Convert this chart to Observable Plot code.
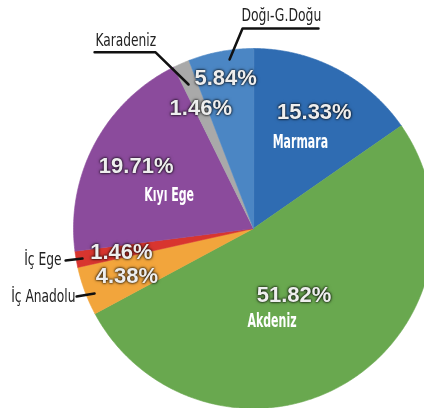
<!DOCTYPE html>
<html><head><meta charset="utf-8">
<script src="https://cdn.jsdelivr.net/npm/d3@7"></script>
<script src="https://cdn.jsdelivr.net/npm/@observablehq/plot@0.6"></script>
<style>
body{margin:0;background:#fff;}
#chart svg{display:block;}
</style></head><body><div id="chart"></div>
<script>
// ---- data ----
const regions = ["Marmara","Akdeniz","İç Anadolu","İç Ege","Kıyı Ege","Karadeniz","Doğı-G.Doğu"];
const shares  = [15.33, 51.82, 4.38, 1.46, 19.71, 1.46, 5.84];
const colors  = ["#2f6cb2","#69a84f","#f2a53c","#d8352f","#8b4b9c","#a9a9a9","#4b86c4"];
const insideNames = ["Marmara","Kıyı Ege","Akdeniz"];
const outsideNames = ["Doğı-G.Doğu","Karadeniz","İç Ege","İç Anadolu"];

// ---- layout (unit = pie radius) ----
const pctRadius = {"Marmara":0.73,"Akdeniz":0.43,"İç Anadolu":0.75,"İç Ege":0.745,"Kıyı Ege":0.74,"Karadeniz":0.73,"Doğı-G.Doğu":0.85};
const nameOffset = {"Marmara":[-14,30],"Kıyı Ege":[33,29],"Akdeniz":[-22,26]};
const leaderPaths = {
  "Doğı-G.Doğu":[[0.361,1.111],[-0.061,1.111],[-0.133,0.939]],
  "Karadeniz":[[-0.883,0.979],[-0.544,0.979],[-0.361,0.80]],
  "İç Ege":[[-1.044,-0.178],[-0.95,-0.167]],
  "İç Anadolu":[[-0.983,-0.378],[-0.883,-0.361]]
};
const outerText = {
  "Doğı-G.Doğu":{x:-0.067,y:1.183,anchor:"start"},
  "Karadeniz":{x:-0.878,y:1.044,anchor:"start"},
  "İç Ege":{x:-1.067,y:-0.172,anchor:"end"},
  "İç Anadolu":{x:-0.989,y:-0.378,anchor:"end"}
};
const outerSqueeze = {"Doğı-G.Doğu":0.81,"Karadeniz":0.80,"İç Ege":0.80,"İç Anadolu":0.80};

// ---- slices ----
const total = d3.sum(shares);
let acc = 0;
const slices = regions.map((r,i)=>{
  const a0 = acc/total*2*Math.PI; acc += shares[i];
  const a1 = acc/total*2*Math.PI;
  return {region:r, share:shares[i], a0, a1, mid:(a0+a1)/2};
});
const pts = slices.flatMap(s=>{
  const n = Math.max(2, Math.ceil((s.a1-s.a0)/(Math.PI/360)));
  const arr = [{region:s.region, x:0, y:0}];
  for(let k=0;k<=n;k++){const a=s.a0+(s.a1-s.a0)*k/n; arr.push({region:s.region, x:Math.sin(a), y:Math.cos(a)});}
  return arr;
});
const pctLabels = slices.map(s=>({region:s.region, label:s.share.toFixed(2)+"%",
  x:Math.sin(s.mid)*pctRadius[s.region], y:Math.cos(s.mid)*pctRadius[s.region]}));
const leaders = outsideNames.flatMap(n=>leaderPaths[n].map(([x,y])=>({key:n,x,y})));
const outer = outsideNames.map(n=>({label:n, ...outerText[n]}));
const outerStart = outer.filter(d=>d.anchor==="start");
const outerEnd = outer.filter(d=>d.anchor==="end");

const narrow = "DejaVu Sans Condensed, Liberation Sans Narrow, sans-serif";
const plot = Plot.plot({
  width:424, height:408, margin:0,
  x:{domain:[-1.4056,0.95], axis:null},
  y:{domain:[-1,1.2667], axis:null},
  color:{domain:regions, range:colors},
  style:{background:"transparent"},
  marks:[
    Plot.line(pts,{x:"x",y:"y",z:"region",fill:"region",stroke:"region",strokeWidth:0.6,curve:"linear-closed"}),
    Plot.text(pctLabels,{x:"x",y:"y",text:"label",fill:"#eeeeee",fontSize:22,fontWeight:"bold",fontFamily:"Liberation Sans, Arial, sans-serif"}),
    ...insideNames.map(n=>Plot.text(pctLabels.filter(d=>d.region===n),{x:"x",y:"y",text:"region",fill:"white",fontSize:20,fontWeight:"bold",fontFamily:narrow,
      dx:nameOffset[n][0], dy:nameOffset[n][1]})),
    Plot.line(leaders,{x:"x",y:"y",z:"key",stroke:"#111",strokeWidth:2.5}),
    Plot.text(outerStart,{x:"x",y:"y",text:"label",textAnchor:"start",fill:"#222",fontSize:17,fontFamily:narrow}),
    Plot.text(outerEnd,{x:"x",y:"y",text:"label",textAnchor:"end",fill:"#222",fontSize:17,fontFamily:narrow})
  ]
});
document.getElementById("chart").appendChild(plot);
// text mark groups in mark order: 0 = percentages, 1..3 = inside names, 4..5 = outside names
const textGroups = plot.querySelectorAll('g[aria-label="text"]');
function condense(g, f){
  g.querySelectorAll("text").forEach((t,i)=>{
    const L = t.getComputedTextLength();
    const k = typeof f === "function" ? f(i) : f;
    t.setAttribute("textLength", (L*k).toFixed(1));
    t.setAttribute("lengthAdjust","spacingAndGlyphs");
  });
}
[1,2,3].forEach(i=>condense(textGroups[i], 0.61));
condense(textGroups[4], i=>outerSqueeze[outerStart[i].label]);
condense(textGroups[5], i=>outerSqueeze[outerEnd[i].label]);
textGroups[0].style.filter = "drop-shadow(0 0 1.2px rgba(0,0,0,0.9)) drop-shadow(0 0 1.5px rgba(0,0,0,0.5))";
</script></body></html>
